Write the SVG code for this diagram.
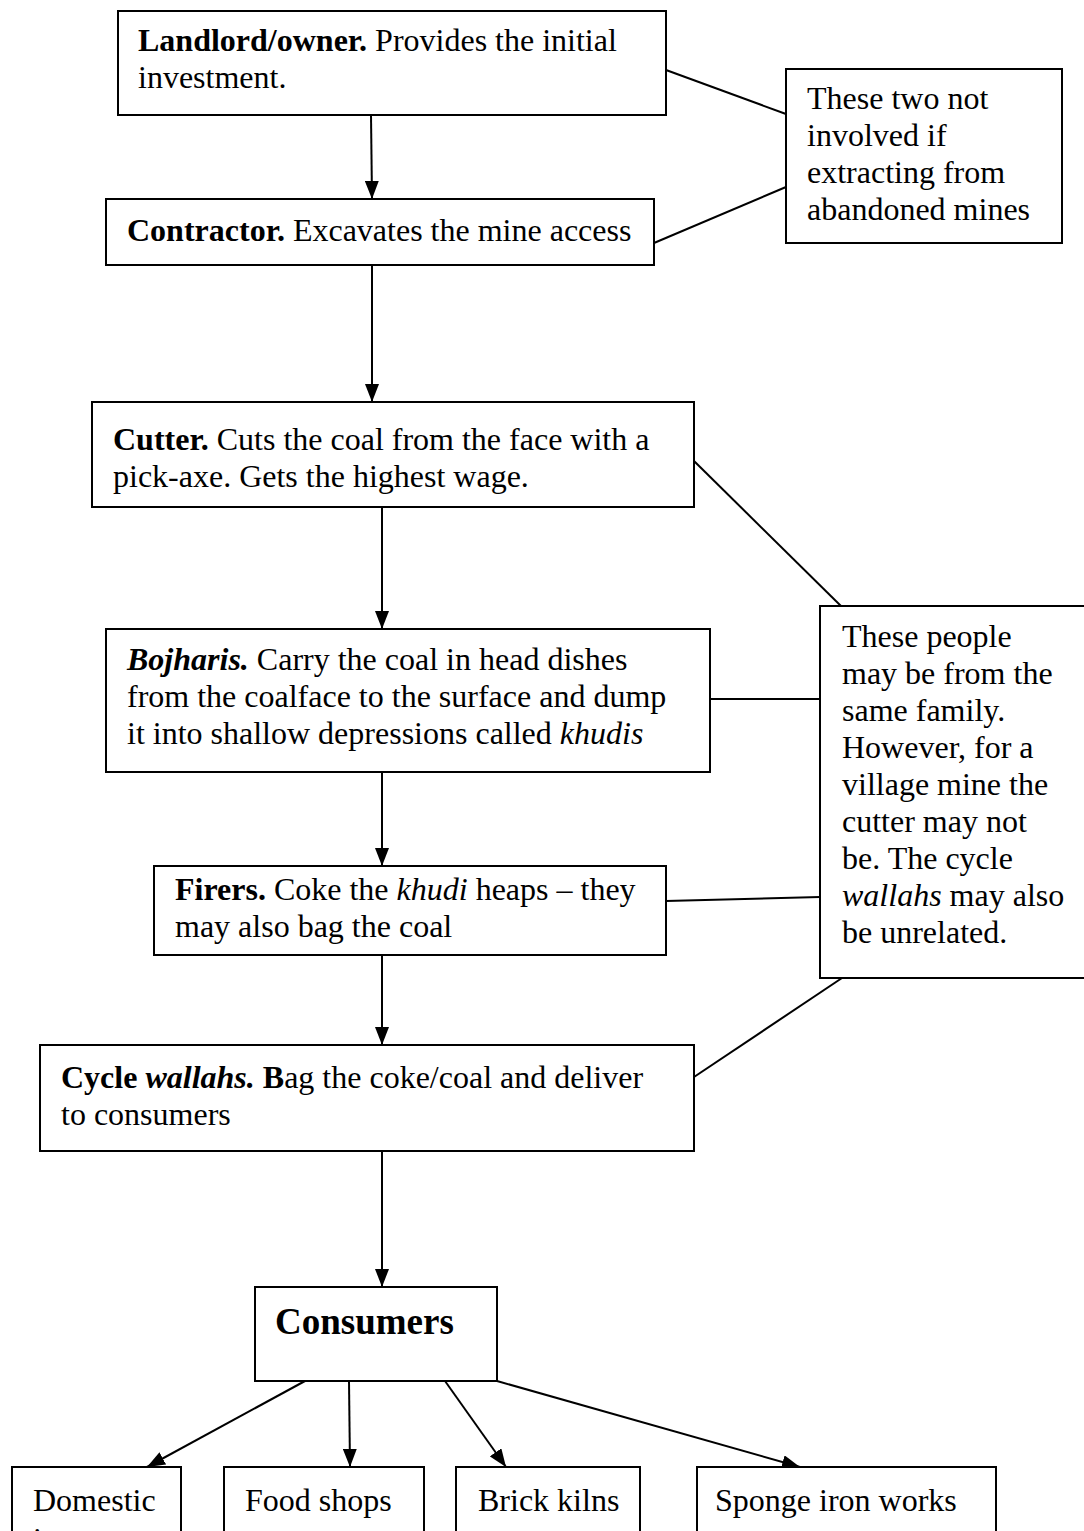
<svg xmlns="http://www.w3.org/2000/svg" width="1084" height="1531" viewBox="0 0 1084 1531">
<defs>
<marker id="ah" markerWidth="18" markerHeight="14" refX="18" refY="7" orient="auto" markerUnits="userSpaceOnUse" viewBox="0 0 18 14">
<path d="M0,0 L18,7 L0,14 z" fill="#000"/>
</marker>
<style>
rect{fill:#fff;stroke:#000;stroke-width:2}
text{font-family:"Liberation Serif","Times New Roman",serif;font-size:32px;fill:#000}
.b{font-weight:bold}
.i{font-style:italic}
.c line{stroke:#000;stroke-width:2}
.a{marker-end:url(#ah)}
</style>
</defs>
<rect x="0" y="0" width="1084" height="1531" style="fill:#fff;stroke:none"/>
<g class="c" id="connectors">
<line class="a" x1="371" y1="115" x2="372" y2="199"/>
<line x1="666" y1="70" x2="786" y2="114"/>
<line x1="654" y1="243" x2="786" y2="187"/>
<line class="a" x1="372" y1="265" x2="372" y2="402"/>
<line class="a" x1="382" y1="507" x2="382" y2="629"/>
<line x1="694" y1="461" x2="842" y2="607"/>
<line x1="710" y1="699" x2="820" y2="699"/>
<line class="a" x1="382" y1="772" x2="382" y2="866"/>
<line x1="666" y1="901" x2="820" y2="897"/>
<line class="a" x1="382" y1="955" x2="382" y2="1045"/>
<line x1="694" y1="1077" x2="842" y2="978"/>
<line class="a" x1="382" y1="1151" x2="382" y2="1287"/>
<line class="a" x1="305" y1="1381" x2="147" y2="1467"/>
<line class="a" x1="349" y1="1381" x2="350" y2="1467"/>
<line class="a" x1="445" y1="1381" x2="506" y2="1467"/>
<line class="a" x1="497" y1="1381" x2="800" y2="1467"/>
</g>
<g id="landlord">
<rect x="118" y="11" width="548" height="104"/>
<text x="138" y="51"><tspan class="b">Landlord/owner.</tspan> Provides the initial</text>
<text x="138" y="88">investment.</text>
</g>
<g id="contractor">
<rect x="106" y="199" width="548" height="66"/>
<text x="127" y="241"><tspan class="b">Contractor.</tspan> Excavates the mine access</text>
</g>
<g id="note1">
<rect x="786" y="69" width="276" height="174"/>
<text x="807" y="109">These two not</text>
<text x="807" y="146">involved if</text>
<text x="807" y="183">extracting from</text>
<text x="807" y="220">abandoned mines</text>
</g>
<g id="cutter">
<rect x="92" y="402" width="602" height="105"/>
<text x="113" y="450"><tspan class="b">Cutter.</tspan> Cuts the coal from the face with a</text>
<text x="113" y="487">pick-axe. Gets the highest wage.</text>
</g>
<g id="bojharis">
<rect x="106" y="629" width="604" height="143"/>
<text x="127" y="670"><tspan class="b i">Bojharis.</tspan> Carry the coal in head dishes</text>
<text x="127" y="707">from the coalface to the surface and dump</text>
<text x="127" y="744">it into shallow depressions called <tspan class="i">khudis</tspan></text>
</g>
<g id="note2">
<rect x="820" y="606" width="270" height="372"/>
<text x="842" y="647">These people</text>
<text x="842" y="684">may be from the</text>
<text x="842" y="721">same family.</text>
<text x="842" y="758">However, for a</text>
<text x="842" y="795">village mine the</text>
<text x="842" y="832">cutter may not</text>
<text x="842" y="869">be. The cycle</text>
<text x="842" y="906"><tspan class="i">wallahs</tspan> may also</text>
<text x="842" y="943">be unrelated.</text>
</g>
<g id="firers">
<rect x="154" y="866" width="512" height="89"/>
<text x="175" y="900"><tspan class="b">Firers.</tspan> Coke the <tspan class="i">khudi</tspan> heaps – they</text>
<text x="175" y="937">may also bag the coal</text>
</g>
<g id="cycle">
<rect x="40" y="1045" width="654" height="106"/>
<text x="61" y="1088"><tspan class="b">Cycle <tspan class="i">wallahs.</tspan> B</tspan>ag the coke/coal and deliver</text>
<text x="61" y="1125">to consumers</text>
</g>
<g id="consumers">
<rect x="255" y="1287" width="242" height="94"/>
<text x="275" y="1334" class="b" style="font-size:37px">Consumers</text>
</g>
<g id="domestic">
<rect x="12" y="1467" width="169" height="80"/>
<text x="33" y="1511">Domestic</text>
<text x="33" y="1550">i</text>
</g>
<g id="food">
<rect x="224" y="1467" width="200" height="80"/>
<text x="245" y="1511">Food shops</text>
</g>
<g id="brick">
<rect x="456" y="1467" width="184" height="80"/>
<text x="478" y="1511">Brick kilns</text>
</g>
<g id="sponge">
<rect x="697" y="1467" width="299" height="80"/>
<text x="715" y="1511">Sponge iron works</text>
</g>
</svg>
